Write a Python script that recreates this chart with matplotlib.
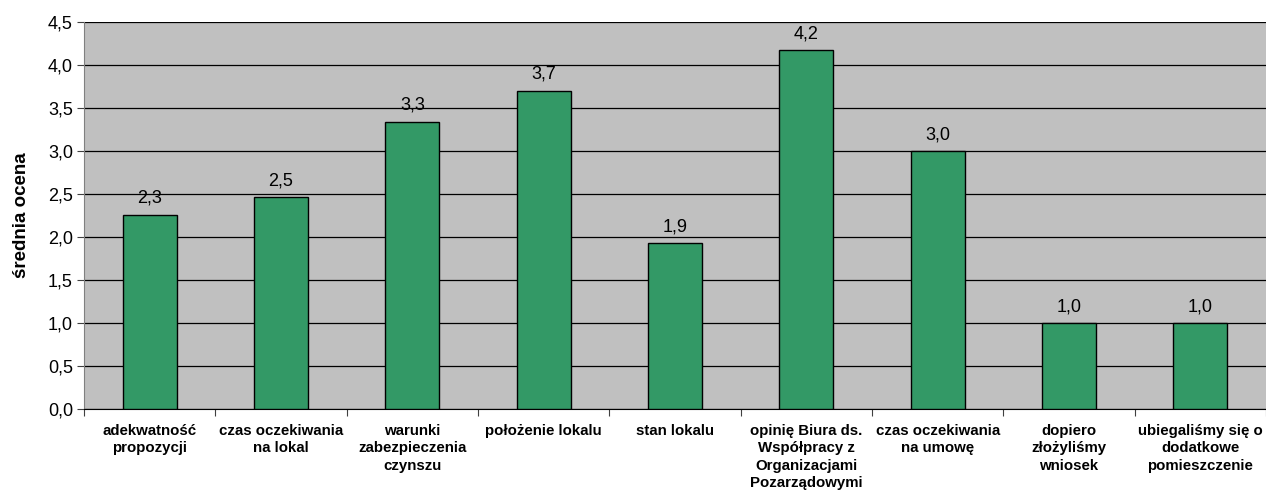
import matplotlib.pyplot as plt
from matplotlib.ticker import MultipleLocator, FuncFormatter

plt.rcParams['font.family'] = ['Liberation Sans', 'DejaVu Sans']

# average ratings per reason
categories = [
    "adekwatność\npropozycji",
    "czas oczekiwania\nna lokal",
    "warunki\nzabezpieczenia\nczynszu",
    "położenie lokalu",
    "stan lokalu",
    "opinię Biura ds.\nWspółpracy z\nOrganizacjami\nPozarządowymi",
    "czas oczekiwania\nna umowę",
    "dopiero\nzłożyliśmy\nwniosek",
    "ubiegaliśmy się o\ndodatkowe\npomieszczenie",
]
scores = [2.26, 2.46, 3.34, 3.70, 1.93, 4.17, 3.00, 1.00, 1.00]
y_label = "średnia ocena"


def comma(v, _pos=None, digits=1):
    return f"{v:.{digits}f}".replace(".", ",")


fig = plt.figure(figsize=(12.66, 4.98), dpi=100)
ax = fig.add_axes([0.0664, 0.179, 0.9336, 0.777])
ax.set_facecolor("#C0C0C0")

x = list(range(len(categories)))
ax.bar(x, scores, width=0.41, color="#339966", edgecolor="black",
       linewidth=1.0, zorder=3)

for xi, v in zip(x, scores):
    ax.text(xi, v + 0.09, comma(v), ha="center", va="bottom",
            fontsize=13, zorder=4)

ax.set_xlim(-0.5, len(categories) - 0.5)
ax.set_ylim(0, 4.5)
ax.yaxis.set_major_locator(MultipleLocator(0.5))
ax.yaxis.set_major_formatter(FuncFormatter(comma))
ax.grid(axis="y", color="black", linewidth=0.9, zorder=1)

# category boundaries get the tick marks, labels sit in between
ax.set_xticks([i - 0.5 for i in range(len(categories) + 1)])
ax.set_xticklabels([])
ax.set_xticks(x, minor=True)
ax.set_xticklabels(categories, minor=True, fontsize=10.8, fontweight="bold",
                   linespacing=1.3, va="top")
ax.tick_params(axis="x", which="minor", length=0, pad=11)
ax.tick_params(axis="x", which="major", length=5, color="#404040")
ax.tick_params(axis="y", length=5, labelsize=13, color="#404040", pad=3)

ax.set_ylabel(y_label, fontsize=13.5, fontweight="bold", labelpad=13)

for side in ("top", "right"):
    ax.spines[side].set_visible(False)
ax.spines["left"].set_color("#808080")
ax.spines["bottom"].set_color("black")

fig.savefig("out.png", dpi=100)
